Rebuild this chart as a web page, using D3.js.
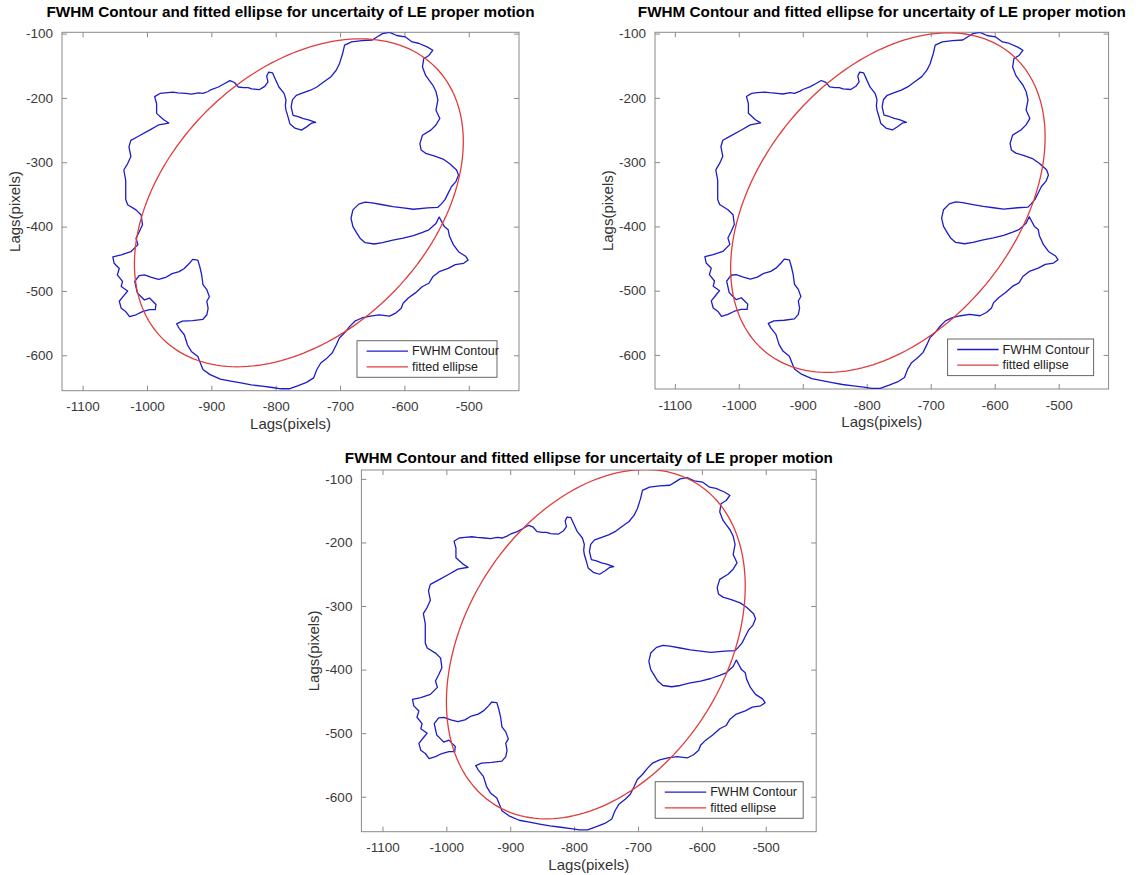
<!DOCTYPE html>
<html lang='en'>
<head>
  <meta charset='UTF-8'>
  <title>FWHM Contour and fitted ellipse</title>
  <script src='https://d3js.org/d3.v7.min.js'></script>
  <style>
    body { margin: 0; background: #fff; }
    svg { display: block; font-family: 'Liberation Sans', Arial, sans-serif; }
  </style>
</head>
<body>
  <svg width='1143' height='875'></svg>

  <script>
    var titleText = 'FWHM Contour and fitted ellipse for uncertaity of LE proper motion';
    var axisLabel = 'Lags(pixels)';
    var legendLabels = ['FWHM Contour', 'fitted ellipse'];
    var xTicks = [-1100, -1000, -900, -800, -700, -600, -500];
    var yTicks = [-100, -200, -300, -400, -500, -600];

    // axis limits of the three panels
    var xLimits = [[-1132, -422], [-1131, -422], [-1133, -421]];
    var yLimits = [[-655, -98], [-653, -98], [-655, -86]];

    // fitted ellipse: centre x, centre y, semi-major, semi-minor, angle (deg)
    var ellipseParams = [
      [-764, -363, 299, 202, 44.8],
      [-767, -363, 301, 199, 50.3],
      [-766, -360, 298, 203.5, 58.0]
    ];

    // FWHM contour (same in all three panels)
    var contour = [
      [-980,-193],[-971,-192],[-960,-191],[-952,-192],[-940,-193],[-931,-194],[-920,-192],[-913,-193],
      [-905,-190],[-900,-187],[-889,-183],[-880,-178],[-871,-173],[-864,-176],[-858,-183],[-850,-184],
      [-843,-184],[-837,-186],[-825,-187],[-817,-182],[-812,-175],[-814,-166],[-811,-160],[-805,-161],
      [-800,-172],[-795,-183],[-787,-193],[-784,-203],[-785,-212],[-784,-219],[-781,-229],[-778,-240],
      [-770,-247],[-760,-250],[-752,-245],[-744,-239],[-738,-238],[-749,-234],[-757,-232],[-765,-229],
      [-773,-227],[-776,-214],[-774,-203],[-768,-196],[-760,-193],[-746,-188],[-736,-183],[-725,-175],
      [-714,-167],[-706,-157],[-701,-147],[-696,-131],[-693,-118],[-682,-113],[-666,-111],[-650,-110],
      [-642,-105],[-634,-100],[-623,-98],[-612,-103],[-599,-105],[-588,-113],[-578,-115],[-564,-121],
      [-556,-126],[-562,-134],[-570,-139],[-572,-152],[-567,-165],[-562,-172],[-556,-180],[-551,-190],
      [-548,-203],[-551,-219],[-545,-232],[-551,-242],[-559,-250],[-572,-258],[-576,-271],[-574,-281],
      [-567,-286],[-554,-290],[-540,-295],[-530,-302],[-519,-312],[-516,-320],[-520,-330],[-527,-338],
      [-532,-348],[-537,-358],[-543,-365],
      [-548,-370],[-564,-371],[-586,-373],[-602,-371],[-618,-369],[-634,-366],[-650,-363],[-661,-362],
      [-671,-365],[-680,-374],[-683,-387],[-680,-400],[-674,-410],[-669,-418],[-661,-425],[-647,-427],
      [-634,-425],[-618,-421],[-602,-418],[-586,-414],[-572,-409],[-562,-405],[-551,-395],[-546,-385],
      [-538,-400],[-532,-405],[-530,-415],[-524,-428],[-516,-439],[-505,-446],[-501,-452],[-508,-457],
      [-521,-459],[-532,-465],[-546,-470],[-556,-478],[-562,-488],[-572,-493],[-583,-503],[-594,-511],
      [-602,-519],[-605,-527],[-613,-534],[-623,-539],[-639,-537],[-653,-539],[-666,-542],[-677,-547],
      [-685,-555],[-693,-565],[-701,-573],[-706,-584],[-712,-596],[-720,-604],[-730,-612],[-736,-622],
      [-741,-635],[-752,-642],[-765,-647],[-779,-652],[-792,-652],[-805,-650],[-821,-648],[-838,-646],
      [-854,-643],[-870,-640],[-886,-637],[-902,-630],[-913,-622],[-917,-612],[-921,-602],[-931,-594],
      [-937,-584],[-942,-568],[-950,-558],[-954,-551],[-945,-547],[-929,-546],[-913,-544],[-907,-537],
      [-905,-527],[-907,-516],[-903,-509],[-907,-498],[-913,-490],[-915,-475],[-918,-462],[-921,-452],
      [-929,-451],[-934,-457],[-942,-465],[-950,-470],[-961,-473],[-971,-479],[-982,-482],[-993,-479],
      [-1004,-475],[-1012,-476],[-1019,-485],
      [-1015,-503],[-1009,-509],[-1004,-514],[-996,-511],[-991,-516],[-986,-521],[-987,-529],[-996,-529],
      [-1007,-532],[-1017,-537],[-1027,-540],[-1033,-532],[-1040,-527],[-1043,-516],[-1035,-506],[-1030,-500],
      [-1040,-493],[-1038,-485],[-1046,-475],[-1043,-465],[-1051,-457],[-1053,-447],[-1040,-444],[-1025,-439],
      [-1014,-428],[-1017,-418],[-1012,-408],[-1007,-397],[-1009,-382],[-1017,-374],[-1030,-366],
      [-1033,-358],[-1033,-343],[-1033,-328],[-1036,-312],[-1030,-302],[-1025,-291],[-1028,-276],[-1025,-266],
      [-1014,-260],[-996,-250],[-982,-242],[-966,-239],[-974,-234],[-985,-224],[-985,-209],[-988,-198],
      [-980,-193]
    ];

    // pixel boxes of the three axes
    var panels = [
      {left: 62, top: 32.3, right: 519, bottom: 390.7, legRight: 22, legWidth: 140, titleGap: 15},
      {left: 655, top: 32.3, right: 1108.6, bottom: 389, legRight: 15, legWidth: 146, titleGap: 15},
      {left: 361.4, top: 470, right: 816.2, bottom: 831.7, legRight: 13, legWidth: 148, titleGap: 7}
    ];

    var svg = d3.select('svg');
    var contourColor = '#1c1cc8',
      ellipseColor = '#e03c3c',
      frameColor = '#8a8a8a',
      tickTextColor = '#3a3a3a';

    function ellipsePoints(p) {
      var th = p[4] * Math.PI / 180;
      return d3.range(0, 361, 2).map(function(deg) {
        var t = deg * Math.PI / 180;
        var u = p[2] * Math.cos(t), v = p[3] * Math.sin(t);
        return [p[0] + u * Math.cos(th) - v * Math.sin(th), p[1] + u * Math.sin(th) + v * Math.cos(th)];
      });
    }

    panels.forEach(function(pan, i) {
      var x = d3.scaleLinear().domain(xLimits[i]).range([pan.left, pan.right]);
      var y = d3.scaleLinear().domain(yLimits[i]).range([pan.bottom, pan.top]);
      var g = svg.append('g');
      var w = pan.right - pan.left, h = pan.bottom - pan.top;
      var fmt = d => String(d);

      g.append('clipPath').attr('id', 'clip' + i)
        .append('rect').attr('x', pan.left).attr('y', pan.top).attr('width', w).attr('height', h);

      var line = d3.line().x(d => x(d[0])).y(d => y(d[1]));

      // axes with inward ticks on all four sides
      g.append('g').attr('transform', 'translate(0,' + pan.bottom + ')')
        .call(d3.axisBottom(x).tickValues(xTicks).tickSize(-5).tickSizeOuter(0).tickPadding(11).tickFormat(fmt));
      g.append('g').attr('transform', 'translate(' + pan.left + ',0)')
        .call(d3.axisLeft(y).tickValues(yTicks).tickSize(-5).tickSizeOuter(0).tickPadding(9).tickFormat(fmt));
      g.append('g').attr('transform', 'translate(0,' + pan.top + ')')
        .call(d3.axisTop(x).tickValues(xTicks).tickSize(-5).tickSizeOuter(0).tickFormat(''));
      g.append('g').attr('transform', 'translate(' + pan.right + ',0)')
        .call(d3.axisRight(y).tickValues(yTicks).tickSize(-5).tickSizeOuter(0).tickFormat(''));
      g.selectAll('.domain').remove();
      g.selectAll('.tick line').attr('stroke', frameColor);
      g.selectAll('.tick text').attr('fill', tickTextColor).style('font-size', '13.5px')
        .style('font-family', "'Liberation Sans', Arial, sans-serif");

      g.append('rect')
        .attr('x', pan.left).attr('y', pan.top).attr('width', w).attr('height', h)
        .attr('fill', 'none').attr('stroke', frameColor).attr('stroke-width', 1);

      var plot = g.append('g').attr('clip-path', 'url(#clip' + i + ')');
      plot.append('path')
        .datum(contour)
        .attr('fill', 'none')
        .attr('stroke', contourColor)
        .attr('stroke-width', 1.3)
        .attr('stroke-linejoin', 'round')
        .attr('d', line);
      plot.append('path')
        .datum(ellipsePoints(ellipseParams[i]))
        .attr('fill', 'none')
        .attr('stroke', ellipseColor)
        .attr('stroke-width', 1.3)
        .attr('d', line);

      // title and axis labels
      var cx = (pan.left + pan.right) / 2, cy = (pan.top + pan.bottom) / 2;
      g.append('text')
        .attr('x', cx).attr('y', pan.top - pan.titleGap)
        .attr('text-anchor', 'middle')
        .attr('textLength', 488).attr('lengthAdjust', 'spacingAndGlyphs')
        .style('font-size', '14px').style('font-weight', 'bold')
        .text(titleText);
      g.append('text')
        .attr('x', cx).attr('y', pan.bottom + 38)
        .attr('text-anchor', 'middle').attr('fill', '#333')
        .style('font-size', '15px')
        .text(axisLabel);
      g.append('text')
        .attr('transform', 'translate(' + (pan.left - 42) + ',' + cy + ') rotate(-90)')
        .attr('text-anchor', 'middle').attr('fill', '#333')
        .style('font-size', '15px')
        .text(axisLabel);

      // legend
      var lx = pan.right - pan.legRight - pan.legWidth, ly = pan.bottom - 13.4 - 36.6;
      var leg = g.append('g').attr('transform', 'translate(' + lx + ',' + ly + ')');
      leg.append('rect').attr('width', pan.legWidth).attr('height', 36.6)
        .attr('fill', '#fff').attr('stroke', '#666');
      [contourColor, ellipseColor].forEach(function(c, k) {
        var yy = 10.5 + k * 15.7;
        leg.append('line').attr('x1', 9.6).attr('x2', 51).attr('y1', yy).attr('y2', yy)
          .attr('stroke', c).attr('stroke-width', 1.3);
        leg.append('text').attr('x', 55).attr('y', yy + 4.2)
          .attr('fill', '#222').style('font-size', '12.5px')
          .text(legendLabels[k]);
      });
    });
  </script>
</body>
</html>
